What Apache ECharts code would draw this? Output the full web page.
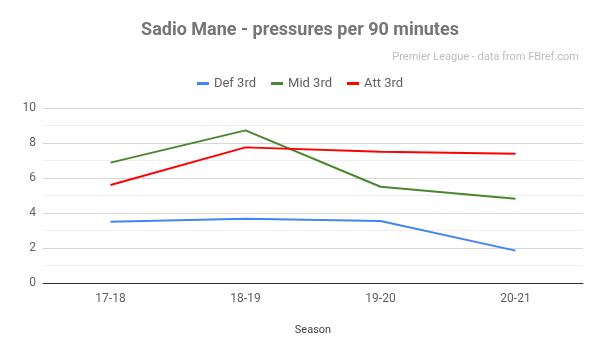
<!DOCTYPE html>
<html>
<head>
<meta charset="utf-8">
<script src="https://cdn.jsdelivr.net/npm/echarts@6/dist/echarts.min.js"></script>
<style>
  html, body { margin: 0; padding: 0; background: #fff; }
  #chart { width: 600px; height: 352px; }
</style>
</head>
<body>
<div id="chart"></div>
<script>
var seasons = ['17-18', '18-19', '19-20', '20-21'];
var def3rd = [3.5, 3.67, 3.54, 1.85];
var mid3rd = [6.88, 8.72, 5.5, 4.82];
var att3rd = [5.6, 7.75, 7.5, 7.39];

var chart = echarts.init(document.getElementById('chart'));

function line(name, data, color) {
	return {
		name: name,
		type: 'line',
		data: data,
		symbol: 'none',
		lineStyle: { width: 2, color: color },
		itemStyle: { color: color }
	};
}

chart.setOption({
	textStyle: { fontFamily: 'Roboto' },
	title: [{
		text: 'Sadio Mane - pressures per 90 minutes',
		left: 'center',
		top: 16,
		textStyle: { fontSize: 18, fontWeight: 'bold', color: '#757575' }
	}, {
		text: 'Premier League - data from FBref.com',
		right: 16,
		top: 47,
		textStyle: { fontSize: 11, fontWeight: 'normal', color: '#bdbdbd' }
	}],
	legend: {
		top: 72,
		left: 'center',
		itemWidth: 12,
		itemHeight: 3,
		itemGap: 15,
		icon: 'rect',
		textStyle: { fontSize: 13, color: '#616161' },
		data: ['Def 3rd', 'Mid 3rd', 'Att 3rd']
	},
	grid: { left: 43, right: 17, top: 108, bottom: 69 },
	xAxis: {
		type: 'category',
		data: seasons,
		name: 'Season',
		nameLocation: 'middle',
		nameGap: 42,
		nameTextStyle: { fontSize: 11, color: '#424242' },
		axisLine: { lineStyle: { color: '#333', width: 1 } },
		axisTick: { show: false },
		axisLabel: { fontSize: 12, color: '#616161', margin: 10 }
	},
	yAxis: {
		type: 'value',
		min: 0,
		max: 10,
		interval: 2,
		axisLine: { show: false },
		axisTick: { show: false },
		axisLabel: { fontSize: 12, color: '#616161', margin: 7 },
		splitLine: { lineStyle: { color: '#d6d6d6', width: 1 } },
		minorTick: { show: false, splitNumber: 2 },
		minorSplitLine: { show: true, lineStyle: { color: '#eeeeee', width: 1 } }
	},
	series: [
		line('Def 3rd', def3rd, '#4285f4'),
		line('Mid 3rd', mid3rd, '#4a862f'),
		line('Att 3rd', att3rd, '#ff0000')
	]
});
</script>
</body>
</html>
